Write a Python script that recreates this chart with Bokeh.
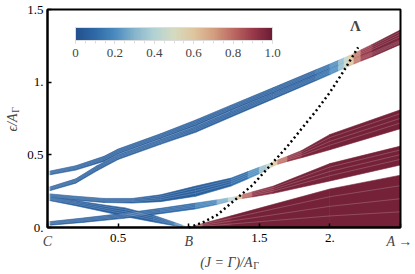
import numpy as np
from bokeh.plotting import figure
from bokeh.models import ColumnDataSource, LinearColorMapper, ColorBar, FixedTicker, Label
from bokeh.embed import file_html
from bokeh.resources import INLINE

# ---------------- data ----------------
STOP_POS = [0.0, 0.1, 0.2, 0.3, 0.4, 0.5, 0.6, 0.7, 0.8, 0.9, 1.0]
STOP_COL = ["#24508e", "#2f6aa8", "#4b8bbf", "#86b5cc", "#b3d2d5", "#d5dbc0",
            "#dfc69e", "#d39f80", "#bc6a64", "#9a3a4b", "#6c1c35"]
CB_TICKS = [0, 0.2, 0.4, 0.6, 0.8, 1.0]

# bands: (x, lower edge, upper edge, weight)
BAND_A = [(0.0, 0.362, 0.388, 0.85), (0.02, 0.363, 0.389, 0.06), (0.2, 0.395, 0.425, 0.06),
          (0.4, 0.455, 0.49, 0.06), (0.5, 0.505, 0.54, 0.06), (0.8, 0.61, 0.645, 0.06),
          (1.05, 0.70, 0.74, 0.06), (1.3, 0.805, 0.842, 0.06), (1.6, 0.925, 0.963, 0.06),
          (1.9, 1.05, 1.085, 0.08), (2.0, 1.09, 1.125, 0.14), (2.06, 1.115, 1.15, 0.26),
          (2.1, 1.132, 1.167, 0.38), (2.13, 1.145, 1.18, 0.5), (2.17, 1.16, 1.198, 0.68),
          (2.22, 1.18, 1.222, 0.85), (2.3, 1.21, 1.26, 0.95), (2.5, 1.295, 1.36, 0.98)]
BAND_B = [(0.0, 0.252, 0.278, 0.85), (0.02, 0.254, 0.28, 0.06), (0.2, 0.305, 0.335, 0.06),
          (0.35, 0.39, 0.425, 0.06), (0.5, 0.468, 0.5, 0.06), (0.8, 0.572, 0.605, 0.06),
          (1.05, 0.655, 0.695, 0.06), (1.3, 0.76, 0.8, 0.06), (1.6, 0.885, 0.922, 0.06),
          (1.9, 1.01, 1.047, 0.08), (2.0, 1.052, 1.087, 0.14), (2.06, 1.078, 1.113, 0.26),
          (2.1, 1.095, 1.13, 0.4), (2.13, 1.108, 1.143, 0.52), (2.17, 1.125, 1.158, 0.7),
          (2.22, 1.145, 1.178, 0.86), (2.3, 1.175, 1.21, 0.95), (2.5, 1.26, 1.295, 0.98)]
BAND_C = [(0.0, 0.205, 0.232, 0.85), (0.02, 0.204, 0.231, 0.06), (0.2, 0.188, 0.215, 0.06),
          (0.4, 0.172, 0.2, 0.06), (0.6, 0.168, 0.2, 0.06), (0.8, 0.178, 0.225, 0.06),
          (1.05, 0.215, 0.285, 0.06), (1.3, 0.285, 0.34, 0.08), (1.42, 0.335, 0.385, 0.15),
          (1.5, 0.37, 0.415, 0.28), (1.55, 0.395, 0.432, 0.4), (1.59, 0.418, 0.448, 0.5),
          (1.63, 0.435, 0.465, 0.7), (1.7, 0.455, 0.49, 0.88), (1.8, 0.48, 0.53, 0.96),
          (2.0, 0.535, 0.64, 0.98), (2.5, 0.68, 0.81, 0.98)]
BAND_D = [(0.0, 0.015, 0.04, 0.85), (0.02, 0.016, 0.041, 0.06), (0.25, 0.035, 0.065, 0.06),
          (0.54, 0.063, 0.098, 0.06), (0.8, 0.095, 0.132, 0.08), (1.05, 0.128, 0.168, 0.12),
          (1.2, 0.158, 0.19, 0.22), (1.28, 0.178, 0.203, 0.35), (1.34, 0.193, 0.213, 0.5),
          (1.38, 0.2, 0.225, 0.72), (1.45, 0.21, 0.245, 0.9), (1.6, 0.235, 0.285, 0.97),
          (2.0, 0.32, 0.44, 0.98), (2.5, 0.43, 0.56, 0.98)]
BAND_E = [(0.0, 0.185, 0.21, 0.85), (0.02, 0.184, 0.209, 0.06), (0.2, 0.15, 0.185, 0.06),
          (0.4, 0.108, 0.155, 0.06), (0.55, 0.075, 0.135, 0.06), (0.75, 0.038, 0.085, 0.06),
          (0.9, 0.012, 0.035, 0.1), (0.96, 0.003, 0.014, 0.25), (1.0, 0.0, 0.002, 0.5)]
BAND_F = [(1.0, 0.0, 0.002, 0.5), (1.04, 0.0, 0.012, 0.75), (1.1, 0.0, 0.028, 0.92),
          (1.3, 0.0, 0.08, 0.98), (2.0, 0.0, 0.265, 0.98), (2.5, 0.0, 0.36, 0.98)]

LAM_X = [1.0, 1.1, 1.2, 1.34, 1.45, 1.59, 1.7, 1.8, 1.9, 2.0, 2.1, 2.2]
LAM_Y = [0.0, 0.035, 0.085, 0.2, 0.29, 0.44, 0.56, 0.68, 0.8, 0.93, 1.08, 1.24]

XLIM = (0.0, 2.5)
YLIM = (0.0, 1.5)
Y_TICKS = [0, 0.5, 1, 1.5]
Y_LABELS = {0: "0.", 0.5: "0.5", 1: "1.", 1.5: "1.5"}
X_TICKS = [0, 0.5, 1, 1.5, 2, 2.5]
X_LABELS = {0: "", 0.5: "0.5", 1: "", 1.5: "1.5", 2: "2.", 2.5: ""}
X_LETTERS = [(0, "C", "center"), (1, "B", "center"), (2.585, "A →", "right")]

FONT = "Liberation Serif"

def make_palette(pos, cols, n=256):
    rgb = np.array([[int(c[i:i + 2], 16) for i in (1, 3, 5)] for c in cols], float)
    out = []
    for t in np.linspace(0, 1, n):
        r, g, b = (int(round(np.interp(t, pos, rgb[:, k]))) for k in range(3))
        out.append("#%02x%02x%02x" % (r, g, b))
    return out

PAL = make_palette(STOP_POS, STOP_COL)
mapper = LinearColorMapper(palette=PAL, low=0, high=1)

# frame covers the whole canvas; axes are pinned at x=0 / y=0
p = figure(width=415, height=274, x_range=(-0.3329, 2.6062), y_range=(-0.3234, 1.5620),
           output_backend="svg", toolbar_location=None, min_border=0)
p.grid.visible = False
p.outline_line_color = None
p.background_fill_color = "white"
p.border_fill_color = "white"

bands = [BAND_A, BAND_B, BAND_C, BAND_D, BAND_E, BAND_F]
xs, ys, ws = [], [], []
for band in bands:
    for (x0, l0, h0, w0), (x1, l1, h1, w1) in zip(band[:-1], band[1:]):
        xs.append([x0, x1, x1, x0])
        ys.append([l0, l1, h1, h0])
        ws.append((w0 + w1) / 2)
src = ColumnDataSource(dict(xs=xs, ys=ys, w=ws))
p.patches("xs", "ys", source=src,
          fill_color={"field": "w", "transform": mapper},
          line_color={"field": "w", "transform": mapper}, line_width=0.6)

lx, ly = [], []
for band in bands:
    for f in (0.3, 0.55, 0.8):
        lx.append([s[0] for s in band])
        ly.append([s[1] + f * (s[2] - s[1]) for s in band])
p.multi_line(lx, ly, line_color="white", line_alpha=0.28, line_width=0.7)

p.line(LAM_X, LAM_Y, line_color="black", line_width=2.5, line_dash="2 3")
p.add_layout(Label(x=2.18, y=1.385, text="Λ", text_font=FONT, text_font_size="15px",
                   text_font_style="bold", text_align="center", text_baseline="middle"))

# plot box
p.rect(x=(XLIM[0] + XLIM[1]) / 2, y=(YLIM[0] + YLIM[1]) / 2,
       width=XLIM[1] - XLIM[0], height=YLIM[1] - YLIM[0],
       fill_color=None, line_color="black", line_width=2)

for ax in (p.xaxis[0], p.yaxis[0]):
    ax.axis_line_width = 2
    ax.axis_line_color = "black"
    ax.major_tick_in = 4
    ax.major_tick_out = 0
    ax.major_tick_line_width = 1.5
    ax.minor_tick_line_color = None
    ax.major_label_text_font = FONT
    ax.major_label_text_font_size = "13px"
    ax.major_label_text_color = "black"
p.yaxis.fixed_location = XLIM[0]
p.yaxis.bounds = YLIM
p.yaxis.ticker = FixedTicker(ticks=Y_TICKS)
p.yaxis.major_label_overrides = Y_LABELS
p.yaxis.major_label_standoff = 4
p.xaxis.fixed_location = YLIM[0]
p.xaxis.bounds = XLIM
p.xaxis.ticker = FixedTicker(ticks=X_TICKS)
p.xaxis.major_label_overrides = X_LABELS
p.xaxis.major_label_standoff = 6

for xv, t, al in X_LETTERS:
    p.add_layout(Label(x=xv, y=-0.096, text=t, text_font=FONT, text_font_size="14px",
                       text_font_style="italic", text_align=al, text_baseline="middle"))

p.add_layout(Label(x=1.452, y=-0.241, text="(J = Γ)/A", text_font=FONT, text_font_size="14px",
                   text_font_style="italic", text_align="right", text_baseline="middle"))
p.add_layout(Label(x=1.458, y=-0.262, text="Γ", text_font=FONT, text_font_size="10px",
                   text_align="left", text_baseline="middle"))
p.add_layout(Label(x=-0.248, y=0.785, text="ϵ/A", text_font=FONT, text_font_size="14px",
                   text_font_style="italic", text_align="right", text_baseline="middle",
                   angle=np.pi / 2))
p.add_layout(Label(x=-0.226, y=0.79, text="Γ", text_font=FONT, text_font_size="10px",
                   text_align="left", text_baseline="middle", angle=np.pi / 2))

cb = ColorBar(color_mapper=mapper, orientation="horizontal", width=197, height=13,
              location=(75, 215), padding=0, margin=0,
              ticker=FixedTicker(ticks=CB_TICKS, minor_ticks=[k * 0.05 for k in range(21)]),
              major_label_overrides={0: "0", 1: "1.0"},
              major_tick_in=0, major_tick_out=3, major_tick_line_color="#cccccc",
              minor_tick_in=0, minor_tick_out=3, minor_tick_line_color="#dddddd",
              bar_line_color="#dddddd", label_standoff=5,
              major_label_text_font=FONT, major_label_text_font_size="13px",
              background_fill_alpha=0, border_line_color=None)
p.add_layout(cb)

open("out.html", "w").write(file_html(p, INLINE))
